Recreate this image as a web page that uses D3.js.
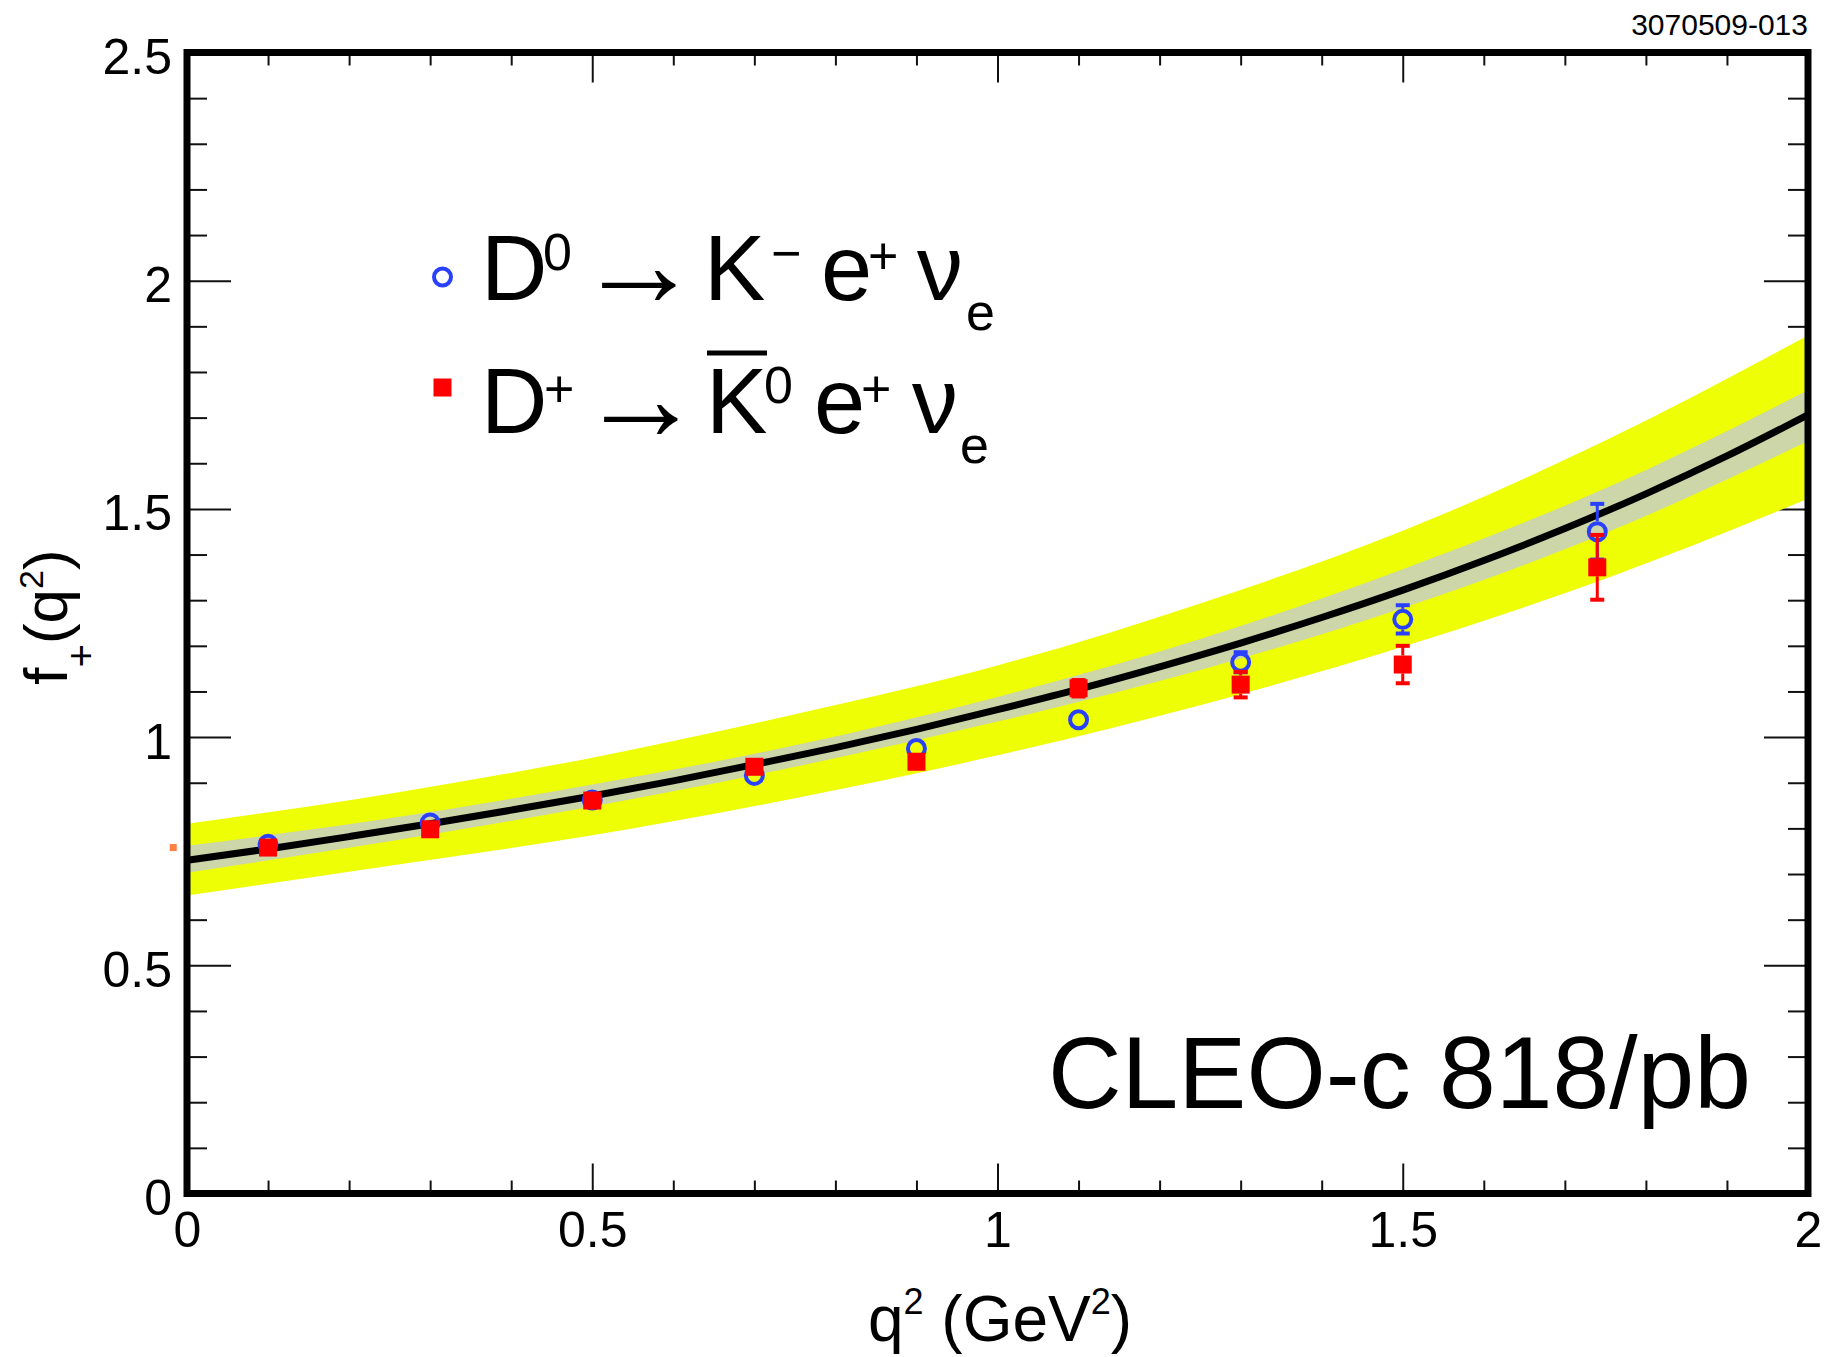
<!DOCTYPE html>
<html><head><meta charset="utf-8">
<script src="https://cdn.jsdelivr.net/npm/d3@7"></script>
<style>
html,body{margin:0;padding:0;background:#fff;}
svg{display:block;}
text{font-family:"Liberation Sans",Arial,Helvetica,sans-serif;fill:#000;}
</style></head><body>
<svg id="chart" width="1828" height="1357"></svg>
<script>
// ---- data ----
const qBins    = [0.1, 0.3, 0.5, 0.7, 0.9, 1.1, 1.3, 1.5, 1.74];
const d0Values = [0.765, 0.812, 0.862, 0.916, 0.975, 1.038, 1.164, 1.258, 1.450];
const d0Errors = [0.008, 0.009, 0.010, 0.011, 0.013, 0.015, 0.022, 0.031, 0.061];
const dpValues = [0.758, 0.798, 0.861, 0.935, 0.946, 1.107, 1.115, 1.159, 1.372];
const dpErrors = [0.009, 0.010, 0.011, 0.012, 0.014, 0.018, 0.028, 0.041, 0.071];

const curveQ2 = [0,0.1,0.2,0.3,0.4,0.5,0.6,0.7,0.8,0.9,1.0,1.1,1.2,1.3,1.4,1.5,1.6,1.7,1.8,1.9,2.0];
const curveF  = [0.730,0.755,0.782,0.810,0.840,0.871,0.904,0.940,0.977,1.017,1.060,1.105,1.154,1.206,1.262,1.322,1.387,1.457,1.533,1.616,1.706];

const bandQ2   = [0, 0.25, 0.5, 0.75, 1.0, 1.25, 1.5, 1.75, 2.0];
const yellowHi = [0.810, 0.876, 0.955, 1.050, 1.157, 1.293, 1.452, 1.650, 1.880];
const yellowLo = [0.653, 0.718, 0.785, 0.866, 0.960, 1.070, 1.198, 1.347, 1.522];
const greyHi   = [0.762, 0.822, 0.896, 0.982, 1.088, 1.215, 1.368, 1.545, 1.760];
const greyLo   = [0.703, 0.772, 0.848, 0.935, 1.034, 1.147, 1.283, 1.447, 1.648];

const strayQ2 = [-0.017];
const strayF  = [0.758];

const xMajorTicks = [0, 0.5, 1, 1.5, 2];
const xTickLabels = ["0", "0.5", "1", "1.5", "2"];
const yMajorTicks = [0, 0.5, 1, 1.5, 2, 2.5];
const yTickLabels = ["0", "0.5", "1", "1.5", "2", "2.5"];
const xMinorTicks = [0.1,0.2,0.3,0.4,0.6,0.7,0.8,0.9,1.1,1.2,1.3,1.4,1.6,1.7,1.8,1.9];
const yMinorTicks = [0.1,0.2,0.3,0.4,0.6,0.7,0.8,0.9,1.1,1.2,1.3,1.4,1.6,1.7,1.8,1.9,2.1,2.2,2.3,2.4];

// ---- layout ----
const L = 187, R = 1808, T = 52.5, B = 1193.5;
const svg = d3.select("#chart");
const x = d3.scaleLinear().domain([0, 2]).range([L, R]);
const y = d3.scaleLinear().domain([0, 2.5]).range([B, T]);

const YELLOW = "#eeff05", GREY = "#ccd6a8", BLUE = "#2a40ff", RED = "#ff0000";

function styleAxis(g, fs) {
  g.select(".domain").remove();
  g.selectAll(".tick line").attr("stroke", "#111").attr("stroke-width", 2);
  g.selectAll(".tick text").attr("font-size", fs).attr("font-family", '"Liberation Sans",Arial,sans-serif').attr("fill", "#000");
}

// ticks (drawn first: band covers them)
const axes = svg.append("g");
axes.append("g").attr("transform", `translate(${L},0)`)
  .call(d3.axisLeft(y).tickValues(yMajorTicks).tickFormat((d, i) => yTickLabels[i]).tickSizeInner(-44).tickSizeOuter(0).tickPadding(15))
  .call(g => styleAxis(g, 50))
  .call(g => g.selectAll(".tick text").attr("dy", "0.42em"));
axes.append("g").attr("transform", `translate(${L},0)`)
  .call(d3.axisLeft(y).tickValues(yMinorTicks).tickFormat("").tickSizeInner(-20).tickSizeOuter(0))
  .call(g => styleAxis(g, 0));
axes.append("g").attr("transform", `translate(${R},0)`)
  .call(d3.axisRight(y).tickValues(yMajorTicks).tickFormat("").tickSizeInner(-44).tickSizeOuter(0))
  .call(g => styleAxis(g, 0));
axes.append("g").attr("transform", `translate(${R},0)`)
  .call(d3.axisRight(y).tickValues(yMinorTicks).tickFormat("").tickSizeInner(-20).tickSizeOuter(0))
  .call(g => styleAxis(g, 0));
axes.append("g").attr("transform", `translate(0,${B})`)
  .call(d3.axisBottom(x).tickValues(xMajorTicks).tickFormat((d, i) => xTickLabels[i]).tickSizeInner(-30).tickSizeOuter(0).tickPadding(18))
  .call(g => styleAxis(g, 50));
axes.append("g").attr("transform", `translate(0,${B})`)
  .call(d3.axisBottom(x).tickValues(xMinorTicks).tickFormat("").tickSizeInner(-13).tickSizeOuter(0))
  .call(g => styleAxis(g, 0));
axes.append("g").attr("transform", `translate(0,${T})`)
  .call(d3.axisTop(x).tickValues(xMajorTicks).tickFormat("").tickSizeInner(-30).tickSizeOuter(0))
  .call(g => styleAxis(g, 0));
axes.append("g").attr("transform", `translate(0,${T})`)
  .call(d3.axisTop(x).tickValues(xMinorTicks).tickFormat("").tickSizeInner(-13).tickSizeOuter(0))
  .call(g => styleAxis(g, 0));

// clip
svg.append("defs").append("clipPath").attr("id", "plotclip")
  .append("rect").attr("x", L).attr("y", T).attr("width", R - L).attr("height", B - T);
const plot = svg.append("g").attr("clip-path", "url(#plotclip)");

const bandRows = bandQ2.map((q, i) => ({q, yh: yellowHi[i], yl: yellowLo[i], gh: greyHi[i], gl: greyLo[i]}));
plot.append("path").datum(bandRows)
  .attr("d", d3.area().x(d => x(d.q)).y0(d => y(d.yl)).y1(d => y(d.yh)).curve(d3.curveMonotoneX))
  .attr("fill", YELLOW);
plot.append("path").datum(bandRows)
  .attr("d", d3.area().x(d => x(d.q)).y0(d => y(d.gl)).y1(d => y(d.gh)).curve(d3.curveMonotoneX))
  .attr("fill", GREY);
const curveRows = curveQ2.map((q, i) => ({q, f: curveF[i]}));
plot.append("path").datum(curveRows)
  .attr("d", d3.line().x(d => x(d.q)).y(d => y(d.f)).curve(d3.curveMonotoneX))
  .attr("fill", "none").attr("stroke", "#000").attr("stroke-width", 7);

// data points
const CIRC_R = 8.5, CIRC_W = 4, SQ = 18, CAP = 14;
function drawSeries(vals, errs, color, kind) {
  const g = svg.append("g");
  const half = kind === "circle" ? CIRC_R + CIRC_W / 2 : SQ / 2;
  qBins.forEach((q, i) => {
    const cx = x(q), cy = y(vals[i]);
    const yt = y(vals[i] + errs[i]), yb = y(vals[i] - errs[i]);
    const showBars = kind === "square" || (cy - yt) > half - 1;
    if (showBars) {
      if (cy - yt > half) g.append("line").attr("x1", cx).attr("x2", cx).attr("y1", yt).attr("y2", cy - half).attr("stroke", color).attr("stroke-width", 3);
      if (yb - cy > half) g.append("line").attr("x1", cx).attr("x2", cx).attr("y1", cy + half).attr("y2", yb).attr("stroke", color).attr("stroke-width", 3);
      [yt, yb].forEach(yy => g.append("line").attr("x1", cx - CAP / 2).attr("x2", cx + CAP / 2).attr("y1", yy).attr("y2", yy).attr("stroke", color).attr("stroke-width", 4));
    }
    if (kind === "circle") {
      g.append("circle").attr("cx", cx).attr("cy", cy).attr("r", CIRC_R).attr("fill", "none").attr("stroke", color).attr("stroke-width", CIRC_W);
    } else {
      g.append("rect").attr("x", cx - SQ / 2).attr("y", cy - SQ / 2).attr("width", SQ).attr("height", SQ).attr("fill", color);
    }
  });
}
drawSeries(d0Values, d0Errors, BLUE, "circle");
drawSeries(dpValues, dpErrors, RED, "square");

// stray orange marker left of the axis
svg.append("g").selectAll("rect").data(strayQ2).join("rect")
  .attr("x", (d) => x(d) - 3.5).attr("y", (d, i) => y(strayF[i]) - 3.5)
  .attr("width", 7).attr("height", 7).attr("fill", "#ff8040");

// frame
svg.append("rect").attr("x", L).attr("y", T).attr("width", R - L).attr("height", B - T)
  .attr("fill", "none").attr("stroke", "#000").attr("stroke-width", 7);

// ---- texts ----
function txt(g, xx, yy, s, fs, extra) {
  const t = g.append("text").attr("x", xx).attr("y", yy).attr("font-size", fs).text(s);
  if (extra) Object.entries(extra).forEach(([k, v]) => t.attr(k, v));
  return t;
}
const serif = {"font-family": '"Liberation Serif","DejaVu Serif",serif'};
const arrowStyle = {"text-anchor": "middle", "font-family": '"Liberation Sans",Arial,sans-serif'};

// legend
const lg = svg.append("g");
lg.append("circle").attr("cx", 442.5).attr("cy", 277).attr("r", CIRC_R).attr("fill", "none").attr("stroke", BLUE).attr("stroke-width", CIRC_W);
lg.append("rect").attr("x", 442.5 - 9).attr("y", 387.5 - 9).attr("width", 18).attr("height", 18).attr("fill", RED);
// line 1: D0 -> K- e+ nu_e
txt(lg, 481, 300, "D", 92);
txt(lg, 543, 270, "0", 52);
txt(lg, 639, 306, "\u2192", 124, arrowStyle);
txt(lg, 704, 300, "K", 92);
txt(lg, 771, 271, "\u2212", 52);
txt(lg, 821, 300, "e", 92);
txt(lg, 868, 274, "+", 52);
txt(lg, 917, 300, "\u03bd", 92, serif);
txt(lg, 966, 330, "e", 52);
// line 2: D+ -> K0bar e+ nu_e
txt(lg, 481, 433, "D", 92);
txt(lg, 544, 407, "+", 52);
txt(lg, 641, 440, "\u2192", 124, arrowStyle);
txt(lg, 706, 433, "K", 92);
lg.append("line").attr("x1", 707).attr("x2", 767).attr("y1", 353).attr("y2", 353).attr("stroke", "#000").attr("stroke-width", 5);
txt(lg, 764, 403, "0", 52);
txt(lg, 814, 433, "e", 92);
txt(lg, 861, 407, "+", 52);
txt(lg, 912, 433, "\u03bd", 92, serif);
txt(lg, 960, 463, "e", 52);

// axis titles
const xt = svg.append("text").attr("x", 1000).attr("y", 1341).attr("font-size", 64).attr("text-anchor", "middle");
xt.append("tspan").text("q");
xt.append("tspan").attr("font-size", 36).attr("dy", -27).text("2");
xt.append("tspan").attr("dy", 27).text(" (GeV");
xt.append("tspan").attr("font-size", 36).attr("dy", -27).text("2");
xt.append("tspan").attr("dy", 27).text(")");

const yt = svg.append("text").attr("transform", "translate(67,617) rotate(-90)").attr("font-size", 62).attr("text-anchor", "middle");
yt.append("tspan").text("f");
yt.append("tspan").attr("font-size", 40).attr("dy", 28).text("+");
yt.append("tspan").attr("dy", -28).text("(q");
yt.append("tspan").attr("font-size", 34).attr("dy", -24).text("2");
yt.append("tspan").attr("dy", 24).text(")");

// annotations
svg.append("text").attr("x", 1751).attr("y", 1108).attr("font-size", 102).attr("text-anchor", "end")
  .attr("font-family", 'Lato,"Open Sans",sans-serif').text("CLEO-c 818/pb");
svg.append("text").attr("x", 1808).attr("y", 35).attr("font-size", 30).attr("text-anchor", "end")
  .attr("font-family", '"Noto Sans","Open Sans",sans-serif').text("3070509-013");
</script>
</body></html>
